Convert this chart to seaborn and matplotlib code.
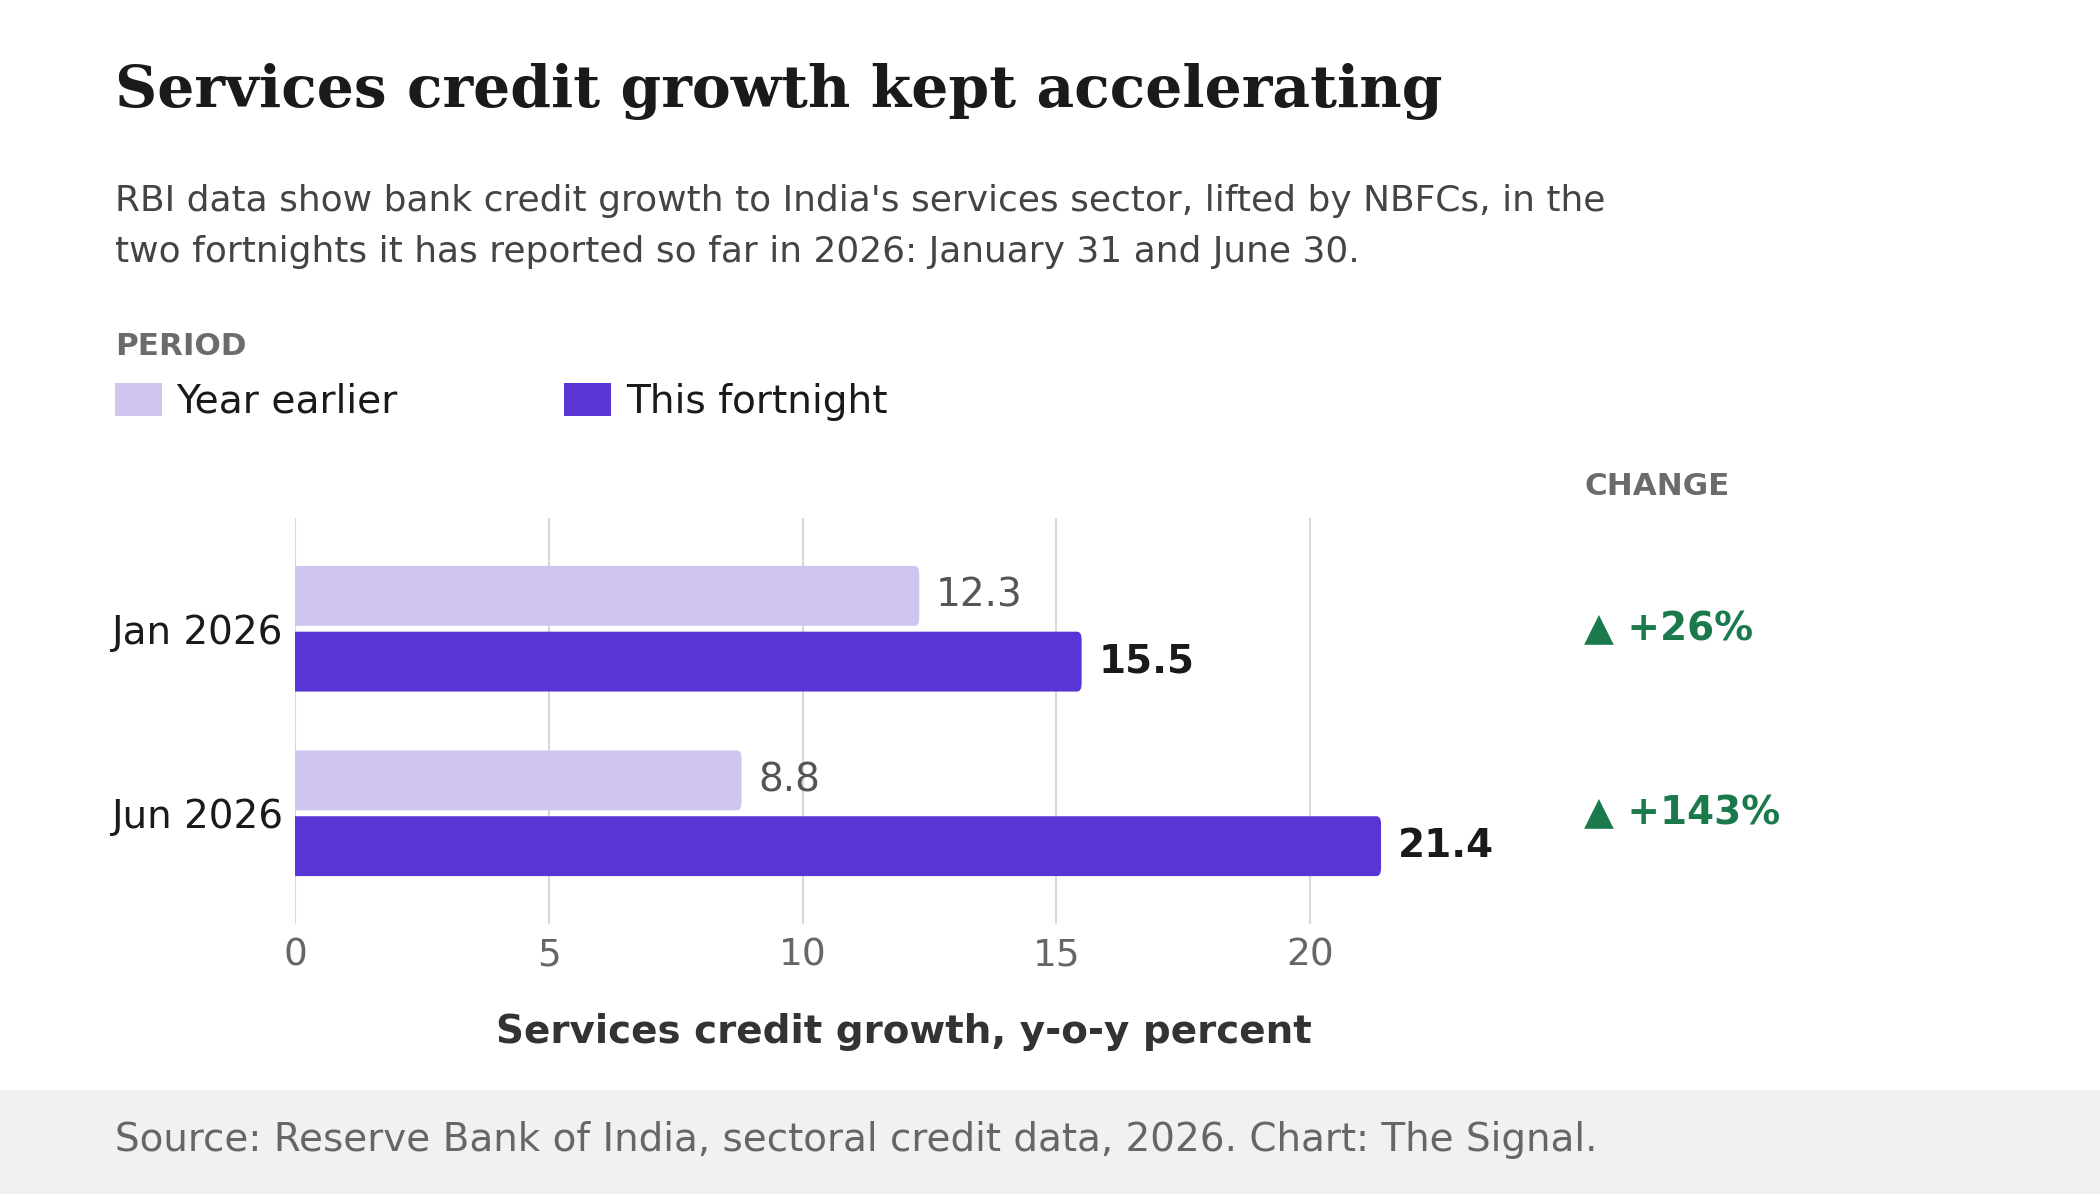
import matplotlib
matplotlib.use("Agg")
import matplotlib.pyplot as plt
from matplotlib.patches import Rectangle, FancyBboxPatch
import seaborn as sns
import pandas as pd

# ---- data ----
periods = ["Jan 2026", "Jun 2026"]
series_names = ["Year earlier", "This fortnight"]
year_earlier = [12.3, 8.8]
this_fortnight = [15.5, 21.4]
x_ticks = [0, 5, 10, 15, 20]

df = pd.DataFrame({
    "period": periods * 2,
    "series": [series_names[0]] * len(periods) + [series_names[1]] * len(periods),
    "value": year_earlier + this_fortnight,
})

LIGHT = "#d0c4f1"
DARK = "#5a35d5"
GREEN = "#1a7a4c"

sns.set_theme(style="white")
plt.rcParams["font.family"] = ["DejaVu Sans"]

W, H = 2100, 1194
fig = plt.figure(figsize=(W / 100, H / 100), dpi=100)
fig.patch.set_facecolor("white")

# axes placement in pixels
ax_l, ax_r, ax_t, ax_b = 295, 1513, 518, 924
ax = fig.add_axes([ax_l / W, 1 - ax_b / H, (ax_r - ax_l) / W, (ax_b - ax_t) / H])

sns.barplot(data=df, y="period", x="value", hue="series", hue_order=series_names,
            palette=[LIGHT, DARK], saturation=1, orient="h", width=0.713, gap=0.09,
            ax=ax, legend=True, zorder=3, linewidth=0)

ax.set_xlim(0, 24)
ax.set_ylim(1.6, -0.6)
ax.set_xticks(x_ticks)
ax.set_xticklabels([str(t) for t in x_ticks])
ax.grid(axis="x", color="#d9d9d9", linewidth=1.5, zorder=0)
ax.grid(axis="y", visible=False)
for s in ax.spines.values():
    s.set_visible(False)
ax.tick_params(axis="x", length=0, pad=10, labelsize=27, labelcolor="#666666")
ax.tick_params(axis="y", length=0, pad=8, labelsize=28, labelcolor="#1a1a1a")
ax.set_ylabel("")
ax.set_xlabel("Services credit growth, y-o-y percent", fontsize=28,
              fontweight="bold", color="#333333", labelpad=28)

# value labels
ax.bar_label(ax.containers[0], fmt="%.1f", padding=12, fontsize=28, color="#555555")
ax.bar_label(ax.containers[1], fmt="%.1f", padding=12, fontsize=28,
             color="#1a1a1a", fontweight="bold")

# rounded right ends
fig.canvas.draw()
p0 = ax.transData.transform((0, 0))
p1 = ax.transData.transform((1, 1))
px_x = abs(p1[0] - p0[0])
px_y = abs(p1[1] - p0[1])
rx = 4.5 / px_x
ry = 8.0 / px_y
for cont, col in zip(ax.containers, [LIGHT, DARK]):
    for p in cont.patches:
        x, y, w, h = p.get_x(), p.get_y(), p.get_width(), p.get_height()
        p.set_visible(False)
        fb = FancyBboxPatch((x - 2 * rx, y), w + 2 * rx, h,
                            boxstyle=f"round,pad=0,rounding_size={rx}",
                            mutation_aspect=ry / rx, facecolor=col,
                            edgecolor="none", zorder=3)
        ax.add_patch(fb)

# change column
for i, (a, b) in enumerate(zip(year_earlier, this_fortnight)):
    pct = (b / a - 1) * 100
    arrow = "\u25B2" if pct >= 0 else "\u25BC"
    ax.text(25.4, i, f"{arrow} {pct:+.0f}%", fontsize=28, fontweight="bold",
            color=GREEN, va="center", ha="left", clip_on=False)

# legend
sns.move_legend(ax, loc="upper left", bbox_to_anchor=(115 / W, 1 - 383 / H),
                bbox_transform=fig.transFigure, ncol=2, title=None, frameon=False,
                fontsize=28.2, handlelength=1.2, handleheight=0.9,
                handletextpad=0.37, columnspacing=4.25, borderpad=0,
                borderaxespad=0)
leg = ax.get_legend()
for t in leg.get_texts():
    t.set_color("#1a1a1a")
for hnd, col in zip(leg.legend_handles, [LIGHT, DARK]):
    hnd.set_facecolor(col)
    hnd.set_edgecolor("none")

# titles
fig.text(115 / W, 1 - 107 / H, "Services credit growth kept accelerating",
         family="DejaVu Serif", fontweight="bold", fontsize=42, color="#1a1a1a",
         va="baseline", ha="left")
fig.text(115 / W, 1 - 211 / H,
         "RBI data show bank credit growth to India's services sector, lifted by NBFCs, in the",
         fontsize=25.9, color="#444444", va="baseline", ha="left")
fig.text(115 / W, 1 - 262 / H,
         "two fortnights it has reported so far in 2026: January 31 and June 30.",
         fontsize=25.9, color="#444444", va="baseline", ha="left")
fig.text(115 / W, 1 - 355 / H, "PERIOD", fontsize=22.3, fontweight="bold",
         color="#6b6b6b", va="baseline", ha="left")
fig.text(1585 / W, 1 - 495 / H, "CHANGE", fontsize=22.3, fontweight="bold",
         color="#6b6b6b", va="baseline", ha="left")

# footer
fig.patches.append(Rectangle((0, 0), 1, (H - 1090) / H, transform=fig.transFigure,
                             facecolor="#f2f1ef", edgecolor="none", zorder=0))
fig.text(115 / W, 1 - 1140 / H,
         "Source: Reserve Bank of India, sectoral credit data, 2026. Chart: The Signal.",
         fontsize=28, color="#666666", va="center", ha="left")

fig.savefig("out.png", dpi=100, facecolor="white")
